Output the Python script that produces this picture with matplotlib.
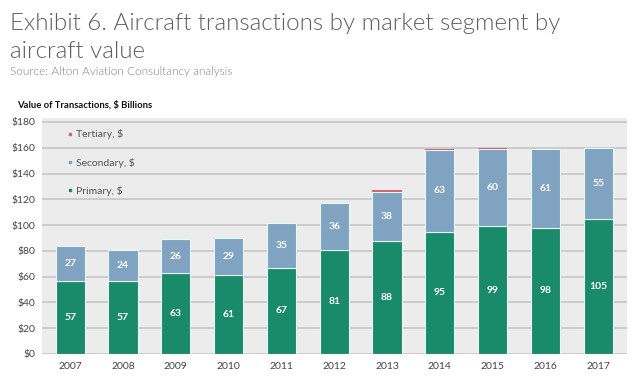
import numpy as np
import matplotlib
matplotlib.use("Agg")
import matplotlib.pyplot as plt
from matplotlib.lines import Line2D

# data ($ billions)
years = ["2007", "2008", "2009", "2010", "2011", "2012",
         "2013", "2014", "2015", "2016", "2017"]
primary = [57, 57, 63, 61, 67, 81, 88, 95, 99, 98, 105]
secondary = [27, 24, 26, 29, 35, 36, 38, 63, 60, 61, 55]
tertiary = [0, 0, 0, 0, 0, 0, 1, 1, 1, 0, 0]
yticks = [0, 20, 40, 60, 80, 100, 120, 140, 160, 180]

c_prim = "#198a6a"
c_sec = "#7fa3c1"
c_ter = "#d4646f"

plt.rcParams['font.family'] = ['Lato', 'DejaVu Sans']

fig = plt.figure(figsize=(6.4, 3.86), dpi=100)
fig.patch.set_facecolor("white")
ax = fig.add_axes([0.066, 0.083, 0.914, 0.611])
ax.set_facecolor("#ececec")

x = np.arange(len(years))
w = 0.55
prim = np.array(primary)
sec = np.array(secondary)
ter = np.array(tertiary)

b1 = ax.bar(x, prim, w, color=c_prim, edgecolor="#e8f6f4", linewidth=0.8, zorder=3)
b2 = ax.bar(x, sec, w, bottom=prim, color=c_sec, edgecolor="#e8f6f4", linewidth=0.8, zorder=3)
ax.bar(x, ter, w, bottom=prim + sec, color=c_ter, linewidth=0, zorder=3)

ax.bar_label(b1, label_type="center", color="white", fontsize=7.5, fontweight="bold")
ax.bar_label(b2, label_type="center", color="white", fontsize=7.5, fontweight="bold")

ax.set_xlim(-0.53, 10.55)
ax.set_ylim(0, 183)
ax.set_yticks(yticks)
ax.set_yticklabels(["$%d" % v for v in yticks])
ax.set_xticks(x)
ax.set_xticklabels(years)
ax.tick_params(length=0, labelsize=7.5, colors="#444444")
ax.tick_params(axis="x", pad=6)
ax.tick_params(axis="y", pad=5)
ax.grid(axis="y", color="#c6c6c6", linewidth=1.2, zorder=0)
for s in ax.spines.values():
    s.set_visible(False)

handles = [Line2D([], [], marker="s", ls="", color=c, markersize=2)
           for c in (c_ter, c_sec, c_prim)]
leg = ax.legend(handles, ["Tertiary, $", "Secondary, $", "Primary, $"],
                loc="upper left", bbox_to_anchor=(0.035, 0.97), frameon=False,
                fontsize=7.5, handlelength=0.6, handletextpad=0.3,
                labelspacing=1.75, borderaxespad=0)
for t in leg.get_texts():
    t.set_color("#555555")

fig.text(0.016, 0.922, "Exhibit 6. Aircraft transactions by market segment by",
         fontsize=17.4, color="#5e5e5e", fontweight=300)
fig.text(0.016, 0.85, "aircraft value", fontsize=17.4, color="#5e5e5e", fontweight=300)
fig.text(0.016, 0.806, "Source: Alton Aviation Consultancy analysis",
         fontsize=8.5, color="#808080", fontweight=300)
fig.text(0.027, 0.722, "Value of Transactions, $ Billions",
         fontsize=6.8, color="#111111", fontweight="bold")

fig.savefig("out.png", dpi=100)
